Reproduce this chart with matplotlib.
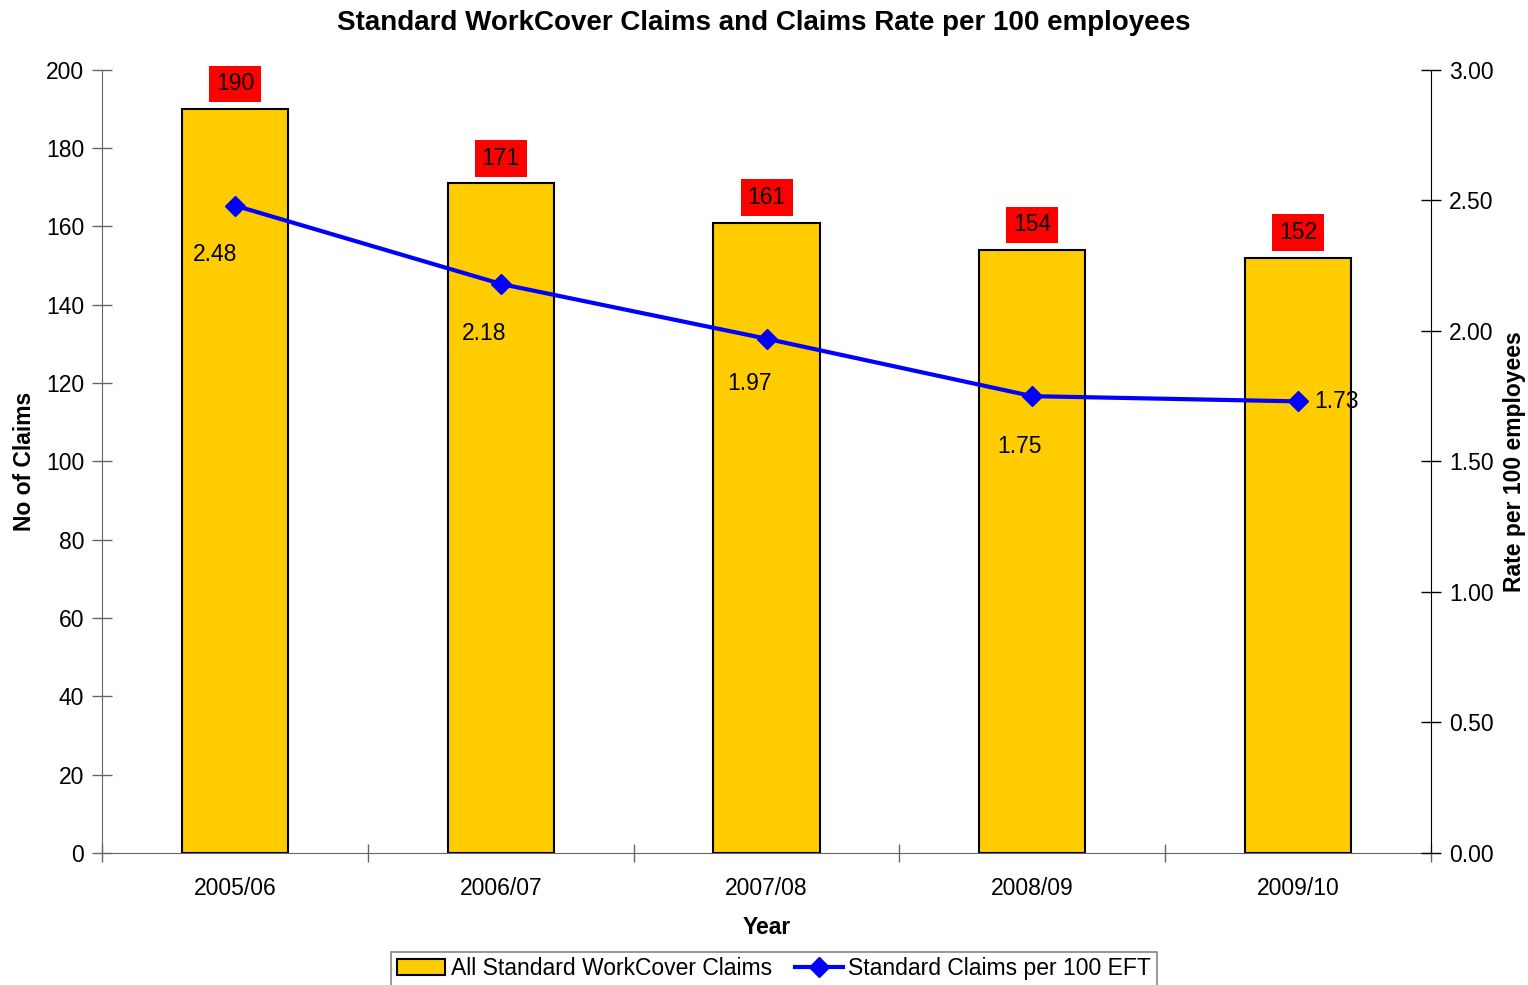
import numpy as np
from matplotlib import pyplot as plt

years = ["2005/06", "2006/07", "2007/08", "2008/09", "2009/10"]
claims = [190, 171, 161, 154, 152]
rates = [2.48, 2.18, 1.97, 1.75, 1.73]

plt.rcParams["font.family"] = ["Liberation Sans", "DejaVu Sans"]
FS = 16.5

fig = plt.figure(figsize=(15.28, 9.85), dpi=100)
ax = fig.add_axes([0.0668, 0.134, 0.8697, 0.7951])
ax2 = ax.twinx()

x = np.arange(len(years))
bars = ax.bar(x, claims, width=0.4, color="#FFCC00", edgecolor="black",
              linewidth=1.5, label="All Standard WorkCover Claims", zorder=2)
line, = ax2.plot(x, rates, color="#0000FF", lw=3, marker="D", markersize=10,
                 label="Standard Claims per 100 EFT", zorder=3)

ax.set_xlim(-0.5, len(years) - 0.5)
ax.set_ylim(0, 200)
ax.set_yticks(np.arange(0, 201, 20))
ax2.set_ylim(0, 3)
ax2.set_yticks(np.arange(0, 3.01, 0.5))
ax2.set_yticklabels([f"{v:.2f}" for v in np.arange(0, 3.01, 0.5)])

ax.set_xticks(x)
ax.set_xticklabels(years)
ax.set_xticks(np.arange(-0.5, len(years)), minor=True)
ax.tick_params(axis="x", which="major", length=0, labelsize=FS, pad=17)
ax.tick_params(axis="x", which="minor", direction="inout", length=13,
               width=1, color="#666666")
ax.tick_params(axis="y", direction="inout", length=14, width=1,
               color="#666666", labelsize=FS, pad=6)
ax2.tick_params(axis="y", direction="inout", length=14, width=1,
                color="black", labelsize=FS, pad=6)

for s in ["top", "right"]:
    ax.spines[s].set_visible(False)
for s in ["top", "left", "bottom"]:
    ax2.spines[s].set_visible(False)
ax.spines["left"].set_color("#666666")
ax.spines["bottom"].set_color("#666666")
ax2.spines["right"].set_color("black")

ax.set_xlabel("Year", fontsize=FS, fontweight="bold", labelpad=12)
ax.set_ylabel("No of Claims", fontsize=FS, fontweight="bold", labelpad=7)
ax2.set_ylabel("Rate per 100 employees", fontsize=FS, fontweight="bold",
               labelpad=7)
fig.suptitle("Standard WorkCover Claims and Claims Rate per 100 employees",
             fontsize=20, fontweight="bold", y=0.99)

for xi, c in zip(x, claims):
    ax.annotate(str(c), (xi, c), xytext=(0, 18), textcoords="offset points",
                ha="center", va="center", fontsize=FS,
                bbox=dict(boxstyle="square,pad=0.3", fc="#FF0000", ec="none"))

offsets = [(-14, -35), (-12, -36), (-12, -32), (-9, -36), (28, 0)]
for xi, r, off in zip(x, rates, offsets):
    ax2.annotate(f"{r:.2f}", (xi, r), xytext=off, textcoords="offset points",
                 ha="center", va="center", fontsize=FS)

leg = fig.legend([bars, line], [bars.get_label(), line.get_label()],
                 loc="upper center", bbox_to_anchor=(0.5065, 0.034),
                 borderaxespad=0, ncol=2, fontsize=FS, fancybox=False,
                 edgecolor="#666666", handlelength=2.1, columnspacing=1.0,
                 borderpad=0.25, handletextpad=0.25)
leg.get_frame().set_linewidth(1.2)

fig.savefig("out.png", dpi=100)
